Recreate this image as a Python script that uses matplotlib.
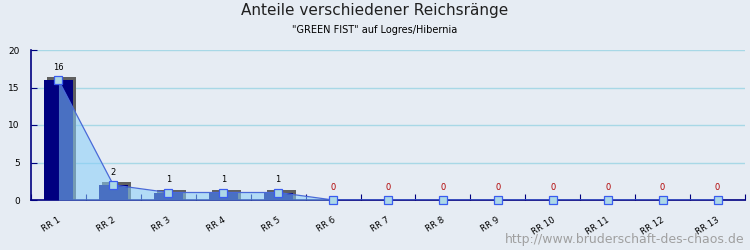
import numpy as np
import matplotlib
matplotlib.use('Agg')
import matplotlib.pyplot as plt

categories = ['RR 1', 'RR 2', 'RR 3', 'RR 4', 'RR 5', 'RR 6', 'RR 7',
              'RR 8', 'RR 9', 'RR 10', 'RR 11', 'RR 12', 'RR 13']
counts = [16, 2, 1, 1, 1, 0, 0, 0, 0, 0, 0, 0, 0]
y_ticks = [0, 5, 10, 15, 20]

bg = '#e6ecf3'
fig = plt.figure(figsize=(7.5, 2.5), dpi=100, facecolor=bg)
ax = fig.add_axes([31 / 750, 50 / 250, 714 / 750, 150 / 250], facecolor=bg)

x = np.arange(len(categories))
vals = np.array(counts)

ax.set_xlim(-0.5, len(categories) - 0.5)
ax.set_ylim(0, 20)

# pixel -> data conversions for the shadow offset
px_x = len(categories) / 714
px_y = 20 / 150
bar_w = 0.53

# grid
for t in y_ticks[1:]:
    ax.axhline(t, color='#a8d8e6', lw=1, zorder=0)

# bar shadows
for xi, v in zip(x, vals):
    if v > 0:
        ax.bar(xi + 3 * px_x, v + 3 * px_y, width=bar_w, color='#606060',
               zorder=1, linewidth=0)

ax.bar(x, vals, width=bar_w, color='#000080', zorder=2, linewidth=0)

# area + line
ax.fill_between(x, vals, 0, color='#87cefa', alpha=0.55, zorder=3, linewidth=0)
ax.plot(x, vals, color='#4a6ad8', lw=0.9, zorder=4)
ax.plot(x, vals, 's', ms=5.5, mfc='#add8e6', mec='#3a5cf0', mew=0.9,
        zorder=5, clip_on=False)

for xi, v in zip(x, vals):
    ax.text(xi, v + 1.1, str(v), ha='center', va='bottom', fontsize=6,
            color='black' if v > 0 else '#b00000', zorder=6)

# axes styling
for s in ['top', 'right']:
    ax.spines[s].set_visible(False)
for s in ['left', 'bottom']:
    ax.spines[s].set_color('#000080')
    ax.spines[s].set_linewidth(1.2)

ax.set_yticks(y_ticks)
ax.set_yticklabels([str(t) for t in y_ticks], fontsize=6.5)
ax.tick_params(axis='y', direction='in', length=4, color='#000080', pad=8)

ax.set_xticks(np.arange(len(categories) + 1) - 0.5)
ax.set_xticklabels([])
ax.tick_params(axis='x', direction='in', length=4, color='#000080')
for xi, c in zip(x, categories):
    ax.text(xi - 0.02, -2.0, c, rotation=32, ha='right', va='top',
            fontsize=6.2, rotation_mode='anchor')

fig.text(0.5, 1 - 11 / 250, 'Anteile verschiedener Reichsränge',
         ha='center', va='center', fontsize=11, color='#202020')
fig.text(0.5, 1 - 30 / 250, '"GREEN FIST" auf Logres/Hibernia',
         ha='center', va='center', fontsize=7)
fig.text(745 / 750, 1 - 240 / 250, 'http://www.bruderschaft-des-chaos.de',
         ha='right', va='center', fontsize=9, color='#a0a0a0')

fig.savefig('out.png', dpi=100, facecolor=bg)
